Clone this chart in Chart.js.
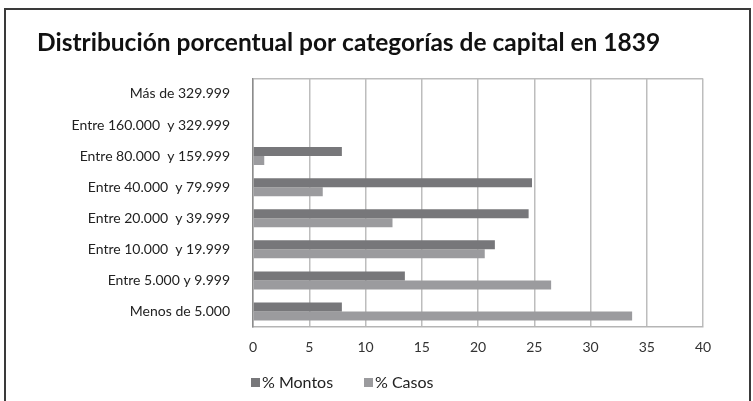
<!DOCTYPE html>
<html>
<head>
<meta charset="utf-8">
<script src="https://cdn.jsdelivr.net/npm/chart.js@4"></script>
<style>
  html, body { margin: 0; padding: 0; background: #fff; }
  #wrap { position: relative; width: 753px; height: 401px; overflow: hidden; }
  #frame { position: absolute; left: 4px; top: 8px; width: 743px; height: 420px; border: 2px solid #3a3a3a; pointer-events: none; }
  canvas { position: absolute; left: 0; top: 0; }
</style>
</head>
<body>
<div id="wrap">
  <canvas id="chart" width="753" height="401"></canvas>
  <div id="frame"></div>
</div>
<script>
// Categories, top to bottom
const categorias = [
  'Más de 329.999',
  'Entre 160.000  y 329.999',
  'Entre 80.000  y 159.999',
  'Entre 40.000  y 79.999',
  'Entre 20.000  y 39.999',
  'Entre 10.000  y 19.999',
  'Entre 5.000 y 9.999',
  'Menos de 5.000'
];
const montos = [0, 0, 7.9, 24.8, 24.5, 21.5, 13.5, 7.9];
const casos  = [0, 0, 1.0, 6.2, 12.4, 20.6, 26.5, 33.7];
const xTicks = [0, 5, 10, 15, 20, 25, 30, 35, 40];

const COLOR_MONTOS = '#77777a';
const COLOR_CASOS  = '#9b9b9e';
const FONT = 'Lato, "Open Sans", sans-serif';

// simple legend drawn under the x axis, aligned with the plot's left edge
const legendPlugin = {
  id: 'bottomLegend',
  afterDraw(chart) {
    const ctx = chart.ctx;
    const items = [
      { text: '% Montos', color: COLOR_MONTOS, x: 251 },
      { text: '% Casos', color: COLOR_CASOS, x: 364 }
    ];
    ctx.save();
    ctx.font = '16px ' + FONT;
    ctx.textBaseline = 'middle';
    ctx.textAlign = 'left';
    for (const it of items) {
      ctx.fillStyle = it.color;
      ctx.fillRect(it.x, 378, 9, 9);
      ctx.fillStyle = '#222';
      ctx.fillText(it.text, it.x + 11, 383);
    }
    ctx.restore();
  }
};

new Chart(document.getElementById('chart'), {
  type: 'bar',
  data: {
    labels: categorias,
    datasets: [
      { label: '% Montos', data: montos, backgroundColor: COLOR_MONTOS, categoryPercentage: 0.58, barPercentage: 1.0 },
      { label: '% Casos', data: casos, backgroundColor: COLOR_CASOS, categoryPercentage: 0.58, barPercentage: 1.0 }
    ]
  },
  options: {
    indexAxis: 'y',
    responsive: false,
    animation: false,
    layout: { padding: { left: 37, right: 50, top: 0, bottom: 0 } },
    plugins: {
      legend: { display: false },
      tooltip: { enabled: false },
      title: {
        display: true,
        text: 'Distribución porcentual por categorías de capital en 1839',
        align: 'start',
        color: '#111',
        font: { family: FONT, size: 24.5, weight: 'bold', lineHeight: 1.2 },
        padding: { top: 28, bottom: 21 }
      }
    },
    scales: {
      x: {
        min: 0,
        max: 40,
        afterBuildTicks: s => { s.ticks = xTicks.map(v => ({ value: v })); },
        afterFit: s => { s.height = 74; },
        grid: { color: '#bdbdbd', lineWidth: 1.5, drawTicks: false },
        border: { color: '#b5b5b5', width: 1.5 },
        ticks: { color: '#333', font: { family: FONT, size: 14 }, padding: 12 }
      },
      y: {
        afterFit: s => { s.width = 216; },
        grid: {
          offset: true,
          drawTicks: false,
          color: c => (c.index === 0 ? '#bdbdbd' : 'rgba(0,0,0,0)'),
          lineWidth: 1.5
        },
        border: { color: '#8c8c8c', width: 1.5 },
        ticks: { color: '#222', font: { family: FONT, size: 14 }, padding: 23 }
      }
    }
  },
  plugins: [legendPlugin]
});
</script>
</body>
</html>
